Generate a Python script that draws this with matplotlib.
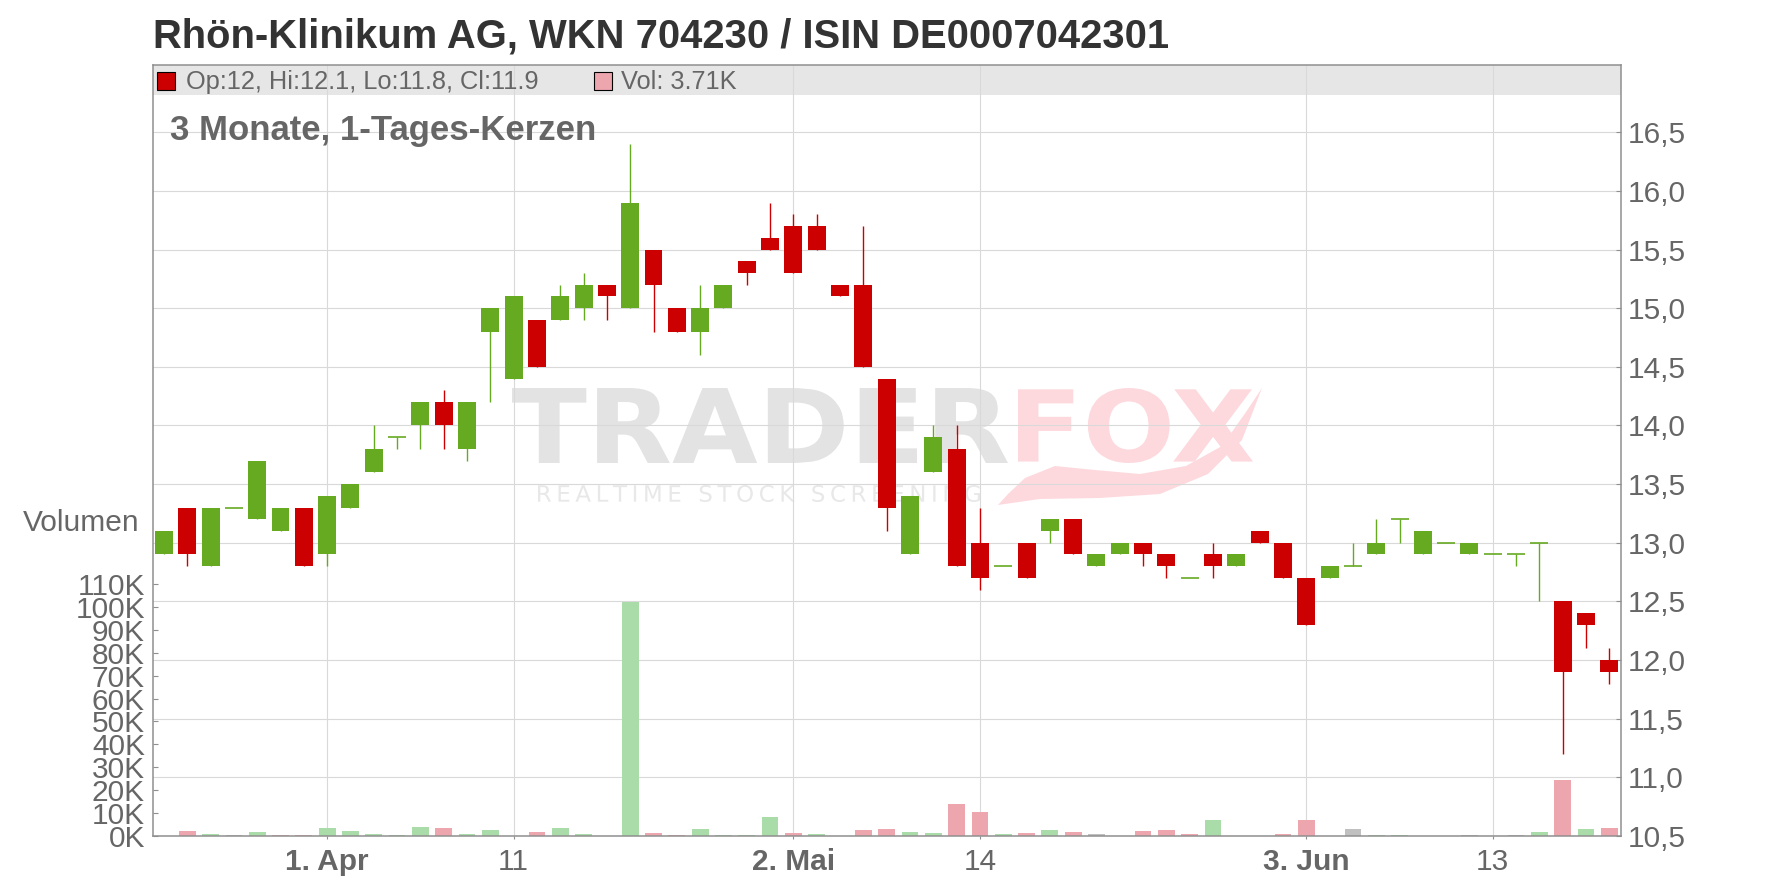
import numpy as np
import pandas as pd
import matplotlib
matplotlib.use("Agg")
import matplotlib.pyplot as plt
from matplotlib.patches import Rectangle, PathPatch, Polygon
from matplotlib.textpath import TextPath
from matplotlib.font_manager import FontProperties
from matplotlib.transforms import Affine2D, IdentityTransform

plt.rcParams['font.family'] = ['Liberation Sans', 'DejaVu Sans']

# ---------------- data ----------------
title = "Rhön-Klinikum AG, WKN 704230 / ISIN DE0007042301"
subtitle = "3 Monate, 1-Tages-Kerzen"
holidays = ["2025-04-18", "2025-04-21", "2025-05-01"]
dates = pd.bdate_range("2025-03-21", "2025-06-20", freq="C", holidays=holidays)

opens = [12.9, 13.3, 12.8, 13.3, 13.2, 13.1, 13.3, 12.9, 13.3, 13.6,
         13.9, 14.0, 14.2, 13.8, 14.8, 14.4, 14.9, 14.9, 15.0, 15.2,
         15.0, 15.5, 15.0, 14.8, 15.0, 15.4, 15.6, 15.7, 15.7, 15.2,
         15.2, 14.4, 12.9, 13.6, 13.8, 13.0, 12.8, 13.0, 13.1, 13.2,
         12.8, 12.9, 13.0, 12.9, 12.7, 12.9, 12.8, 13.1, 13.0, 12.7,
         12.7, 12.8, 12.9, 13.2, 12.9, 13.0, 12.9, 12.9, 12.9, 13.0,
         12.5, 12.4, 12.0]
highs = [13.1, 13.3, 13.3, 13.3, 13.7, 13.3, 13.3, 13.4, 13.5, 14.0,
         13.9, 14.2, 14.3, 14.2, 15.0, 15.1, 14.9, 15.2, 15.3, 15.2,
         16.4, 15.5, 15.0, 15.2, 15.2, 15.4, 15.9, 15.8, 15.8, 15.2,
         15.7, 14.4, 13.4, 14.0, 14.0, 13.3, 12.8, 13.0, 13.2, 13.2,
         12.9, 13.0, 13.0, 12.9, 12.7, 13.0, 12.9, 13.1, 13.0, 12.7,
         12.8, 13.0, 13.2, 13.2, 13.1, 13.0, 13.0, 12.9, 12.9, 13.0,
         12.5, 12.4, 12.1]
lows = [12.9, 12.8, 12.8, 13.3, 13.2, 13.1, 12.8, 12.8, 13.3, 13.6,
        13.8, 13.8, 13.8, 13.7, 14.2, 14.4, 14.5, 14.9, 14.9, 14.9,
        15.0, 14.8, 14.8, 14.6, 15.0, 15.2, 15.5, 15.3, 15.5, 15.1,
        14.5, 13.1, 12.9, 13.6, 12.8, 12.6, 12.8, 12.7, 13.0, 12.9,
        12.8, 12.9, 12.8, 12.7, 12.7, 12.7, 12.8, 13.0, 12.7, 12.3,
        12.7, 12.8, 12.9, 13.0, 12.9, 13.0, 12.9, 12.9, 12.8, 12.5,
        11.2, 12.1, 11.8]
closes = [13.1, 12.9, 13.3, 13.3, 13.7, 13.3, 12.8, 13.4, 13.5, 13.8,
          13.9, 14.2, 14.0, 14.2, 15.0, 15.1, 14.5, 15.1, 15.2, 15.1,
          15.9, 15.2, 14.8, 15.0, 15.2, 15.3, 15.5, 15.3, 15.5, 15.1,
          14.5, 13.3, 13.4, 13.9, 12.8, 12.7, 12.8, 12.7, 13.2, 12.9,
          12.9, 13.0, 12.9, 12.8, 12.7, 12.8, 12.9, 13.0, 12.7, 12.3,
          12.8, 12.8, 13.0, 13.2, 13.1, 13.0, 13.0, 12.9, 12.9, 13.0,
          11.9, 12.3, 11.9]
volumes_k = [0.0, 2.2, 0.9, 0.4, 1.7, 0.4, 0.4, 3.5, 2.2, 0.9,
             0.4, 3.9, 3.5, 0.9, 2.6, 0.0, 1.7, 3.5, 0.9, 0.0,
             102.0, 1.3, 0.4, 3.0, 0.4, 0.4, 8.3, 1.3, 0.9, 0.0,
             2.6, 3.0, 1.7, 1.3, 13.9, 10.4, 0.9, 1.3, 2.6, 1.7,
             0.9, 0.0, 2.2, 2.6, 0.9, 7.0, 0.0, 0.0, 0.9, 7.0,
             0.0, 3.0, 0.4, 0.4, 0.0, 0.0, 0.4, 0.0, 0.4, 1.7,
             24.5, 3.0, 3.71]

tick_dates = ["2025-04-01", "2025-04-11", "2025-05-02", "2025-05-14", "2025-06-03", "2025-06-13"]
tick_labels = ["1. Apr", "11", "2. Mai", "14", "3. Jun", "13"]
tick_bold = [True, False, True, False, True, False]
price_ticks = [10.5, 11.0, 11.5, 12.0, 12.5, 13.0, 13.5, 14.0, 14.5, 15.0, 15.5, 16.0, 16.5]
vol_ticks_k = [0, 10, 20, 30, 40, 50, 60, 70, 80, 90, 100, 110]

# ---------------- style ----------------
GREEN = '#66aa22'
RED = '#cc0000'
VGREEN = '#aadcaa'
VRED = '#eea6ae'
VGRAY = '#c0c0c0'
TXT = '#666666'
GRID = '#d9d9d9'
SPINE = '#8f8f8f'

W, H = 1776, 888
fig = plt.figure(figsize=(W / 100, H / 100), dpi=100)
fig.patch.set_facecolor('white')
L, R, T, B = 153, 1621, 65, 836
ax = fig.add_axes([L / W, 1 - B / H, (R - L) / W, (B - T) / H])
ax2 = ax.twinx()

o = np.array(opens); h = np.array(highs); lo = np.array(lows); c = np.array(closes)
v = np.array(volumes_k) * 1000
x = np.arange(len(dates))

ax.set_xlim(-0.47, len(dates) - 0.5)
ax.set_ylim(10.5, 17.073)
ax2.set_ylim(0, 336.6e3)

# band
ax.add_patch(Rectangle((0, 0.9611), 1, 0.0389, transform=ax.transAxes,
                       facecolor='#e6e6e6', edgecolor='none', zorder=0.2))

# grid
ax.set_axisbelow(True)
ax.set_yticks(price_ticks)
ax.set_yticklabels([f"{p:.1f}".replace('.', ',') for p in price_ticks])
tick_pos = [dates.get_loc(pd.Timestamp(d)) for d in tick_dates]
ax.set_xticks(tick_pos)
ax.set_xticklabels(tick_labels)
for t, b in zip(ax.get_xticklabels(), tick_bold):
    t.set_fontweight('bold' if b else 'normal')
ax.grid(True, color=GRID, lw=0.8)

# watermark
def wm_text(s, x0, x1, ytop, ybot, color, weight='bold'):
    tp = TextPath((0, 0), s, size=100, prop=FontProperties(family='DejaVu Sans', weight=weight))
    ext = tp.get_extents()
    tr = Affine2D().translate(-ext.x0, -ext.y0).scale((x1 - x0) / ext.width, (ybot - ytop) / ext.height).translate(x0, H - ybot)
    p = PathPatch(tr.transform_path(tp), facecolor=color, edgecolor='none',
                  transform=IdentityTransform(), zorder=0.3)
    ax.add_artist(p)

wm_text("TRADER", 512, 1008, 388, 463, '#e3e3e3')
wm_text("FOX", 1018, 1253, 388, 463, '#fdd9de')
wm_text("\u2009".join(list("REALTIME STOCK SCREENING")), 538, 980, 485, 502, '#e8e8e8', weight='normal')
tail_lower = [(998, 505), (1040, 499), (1100, 498), (1160, 494), (1208, 474), (1242, 440), (1262, 388)]
tail_upper = [(1246, 412), (1222, 446), (1186, 466), (1140, 474), (1095, 470), (1055, 466),
              (1025, 478), (1008, 494)]
pts = [(px, H - py) for px, py in tail_lower + tail_upper]
ax.add_artist(Polygon(pts, closed=True, facecolor='#fdd9de', edgecolor='none',
                      transform=IdentityTransform(), zorder=0.3))

# candles
ccol = np.where(c < o, RED, GREEN)
body = np.abs(c - o)
nz = body > 1e-9
ax.vlines(x, lo, h, colors=ccol, lw=1.0, zorder=2)
ax.bar(x[nz], body[nz], bottom=np.minimum(o, c)[nz], width=0.77, color=ccol[nz], lw=0, zorder=3)
ax.hlines(c[~nz], x[~nz] - 0.385, x[~nz] + 0.385, colors=ccol[~nz], lw=1.2, zorder=3)

# volume
prev = np.r_[c[0], c[:-1]]
d = c - prev
vcol = np.where(d > 1e-9, VGREEN, np.where(d < -1e-9, VRED, VGRAY))
ax2.bar(x, v, width=0.72, color=vcol, lw=0, zorder=2)
ax2.set_yticks([k * 1000 for k in vol_ticks_k])
ax2.set_yticklabels([f"{k}K" for k in vol_ticks_k])

# axes styling
ax.yaxis.tick_right()
ax.tick_params(axis='y', which='both', direction='in', length=3.6, width=0.8, color=SPINE,
               labelsize=21.5, labelcolor=TXT, pad=5, left=False, right=True,
               labelleft=False, labelright=True)
ax.tick_params(axis='x', direction='out', length=2.2, width=0.8, color=SPINE,
               labelsize=21.5, labelcolor=TXT, pad=6.5)
ax2.yaxis.tick_left()
ax2.tick_params(axis='y', direction='in', length=3.6, width=0.8, color=SPINE,
                labelsize=21.5, labelcolor=TXT, pad=5.7, left=True, right=False,
                labelleft=True, labelright=False)
for sp in ax.spines.values():
    sp.set_visible(False)
for sp in ax2.spines.values():
    sp.set_color(SPINE)
    sp.set_linewidth(1.1)

# texts
def fx(px):
    return px / W

def fy(py):
    return 1 - py / H

fig.text(fx(153), fy(47), title, fontsize=28.8, fontweight='bold', color='#333333', va='baseline')
fig.text(fx(170), fy(140), subtitle, fontsize=25, fontweight='bold', color=TXT, va='baseline')
fig.text(fx(139), fy(523), "Volumen", fontsize=21.5, color=TXT, ha='right', va='center')

fig.add_artist(Rectangle((fx(157), fy(90)), 18 / W, 18 / H, facecolor=RED, edgecolor='black', lw=0.8))
fig.text(fx(186), fy(89), f"Op:{opens[-1]:g}, Hi:{highs[-1]:g}, Lo:{lows[-1]:g}, Cl:{closes[-1]:g}",
         fontsize=18.3, color=TXT, va='baseline')
fig.add_artist(Rectangle((fx(594), fy(90)), 18 / W, 18 / H, facecolor=VRED, edgecolor='black', lw=0.8))
fig.text(fx(621), fy(89), f"Vol: {volumes_k[-1]:.2f}K", fontsize=18.3, color=TXT, va='baseline')

fig.savefig("out.png", dpi=100)
